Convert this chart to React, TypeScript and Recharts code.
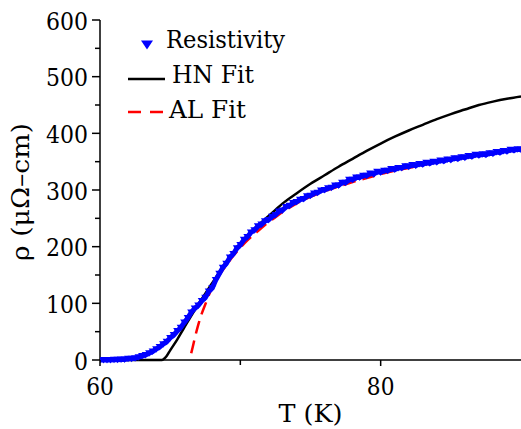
import { ComposedChart, Line, Scatter, XAxis, YAxis, Legend, Label } from 'recharts';

// Only DejaVu Serif is a real serif here; textLength squeezes it to Times-like widths.
const txt = { fontFamily: "'DejaVu Serif', serif" };
const FS = 25;

// measured resistivity (T in K, rho in µΩ-cm)
const resT = [
  60, 60.25, 60.5, 60.75, 61, 61.25, 61.5, 61.75, 62,
  62.25, 62.5, 62.75, 63, 63.25, 63.5, 63.75, 64,
  64.25, 64.5, 64.75, 65, 65.25, 65.5, 65.75, 66,
  66.25, 66.5, 66.75, 67, 67.25, 67.5, 67.75, 68,
  68.25, 68.5, 68.75, 69, 69.25, 69.5, 69.75, 70,
  70.25, 70.5, 70.75, 71, 71.25, 71.5, 71.75, 72,
  72.25, 72.5, 72.75, 73, 73.25, 73.5, 73.75, 74,
  74.25, 74.5, 74.75, 75, 75.25, 75.5, 75.75, 76,
  76.25, 76.5, 76.75, 77, 77.25, 77.5, 77.75, 78,
  78.25, 78.5, 78.75, 79, 79.25, 79.5, 79.75, 80,
  80.25, 80.5, 80.75, 81, 81.25, 81.5, 81.75, 82,
  82.25, 82.5, 82.75, 83, 83.25, 83.5, 83.75, 84,
  84.25, 84.5, 84.75, 85, 85.25, 85.5, 85.75, 86,
  86.25, 86.5, 86.75, 87, 87.25, 87.5, 87.75, 88,
  88.25, 88.5, 88.75, 89, 89.25, 89.5, 89.75, 90,
];
const resRho = [
  0, 0, 0, 0, 0.5, 0.5, 1, 1, 2,
  2, 3, 5, 7, 9, 12, 15, 19,
  23, 28, 32, 39, 44, 51, 57, 66,
  74, 84, 91, 96, 104, 110, 121, 127,
  141, 152, 163, 170, 181, 187, 197, 203,
  212, 217, 225, 229, 236, 239, 245, 247,
  253, 256, 262, 264, 270, 272, 277, 279,
  283, 284, 289, 290, 294, 295, 299, 300,
  303, 304, 308, 308, 313, 313, 318, 318,
  322, 322, 325, 325, 329, 328, 332, 331,
  334, 334, 337, 336, 339, 339, 342, 341,
  344, 343, 346, 345, 348, 347, 350, 349,
  352, 351, 354, 353, 356, 355, 358, 357,
  360, 359, 362, 361, 363, 362, 365, 364,
  367, 366, 369, 368, 371, 370, 372, 371,
];

// HN fit
const hnT = [60, 64.4, 64.75, 65, 65.5, 66, 66.5, 67, 67.5, 68, 68.5, 69, 69.5, 70, 70.5, 71, 71.5, 72, 72.5, 73, 74, 75, 76, 77, 78, 79, 80, 81, 82, 83, 84, 85, 86, 87, 88, 89, 90];
const hnRho = [0, 0, 7, 17, 36, 57, 78, 98, 117, 136, 155, 173, 189, 204, 218, 231, 243, 254, 265, 276, 294, 311, 326, 341, 355, 369, 382, 394, 405, 415, 425, 434, 442, 450, 456, 461, 465];

// AL fit
const alT = [66.5, 66.6, 66.75, 67, 67.25, 67.5, 67.75, 68, 68.5, 69, 69.5, 70, 70.5, 71, 71.5, 72, 72.5, 73, 74, 75, 76, 77, 78, 79, 80, 81, 82, 83, 84, 85, 86, 87, 88, 89, 90];
const alRho = [12, 22, 38, 62, 82, 98, 114, 128, 150, 167, 184, 198, 211, 222, 233, 243, 252, 261, 276, 288, 298, 306, 314, 321, 328, 334, 339, 344, 349, 353, 357, 361, 365, 368, 371];

const xTicks = [60, 70, 80];
const xLabeled = [60, 80];
const yTicks = [0, 50, 100, 150, 200, 250, 300, 350, 400, 450, 500, 550, 600];
const yLabeled = [0, 100, 200, 300, 400, 500, 600];

const resData = resT.map((t, i) => ({ t, rho: resRho[i] }));
const hnData = hnT.map((t, i) => ({ t, rho: hnRho[i] }));
const alData = alT.map((t, i) => ({ t, rho: alRho[i] }));

const YTick = (props: any) => {
  const { x, y, payload } = props;
  const major = yLabeled.includes(payload.value);
  const s = String(payload.value);
  return (
    <g>
      <line x1={x - (major ? 8 : 5)} x2={x} y1={y} y2={y} stroke="#000" strokeWidth={1.5} />
      {major && (
        <text x={x - 12} y={y + 9.5} textAnchor="end" style={txt} fontSize={FS} fill="#000"
          textLength={s.length * 14} lengthAdjust="spacingAndGlyphs">
          {s}
        </text>
      )}
    </g>
  );
};

const XTick = (props: any) => {
  const { x, y, payload } = props;
  const major = xLabeled.includes(payload.value);
  const s = String(payload.value);
  return (
    <g>
      <line x1={x} x2={x} y1={y} y2={y + (major ? 6 : 5)} stroke="#000" strokeWidth={1.5} />
      {major && (
        <text x={x} y={y + 35} textAnchor="middle" style={txt} fontSize={FS} fill="#000"
          textLength={s.length * 13.8} lengthAdjust="spacingAndGlyphs">
          {s}
        </text>
      )}
    </g>
  );
};

const Triangle = (props: any) => {
  const { cx, cy } = props;
  return <polygon points={`${cx - 4},${cy - 3} ${cx + 4},${cy - 3} ${cx},${cy + 3.5}`} fill="#0000ff" />;
};

const legendRows: Record<string, { y: number; tx: number; base: number; len: number }> = {
  triangle: { y: 45, tx: 166, base: 48, len: 119 },
  line: { y: 79, tx: 172, base: 83, len: 82 },
  plainline: { y: 112, tx: 169, base: 118, len: 77 },
};

const renderLegend = (props: any) => {
  const { payload } = props;
  return (
    <svg width={320} height={130} style={{ display: 'block' }}>
      {payload.map((entry: any) => {
        const r = legendRows[entry.type];
        const y = r.y;
        let icon;
        if (entry.type === 'triangle') {
          icon = <polygon points={`141,${y - 4.5} 153,${y - 4.5} 147,${y + 4.5}`} fill="#0000ff" />;
        } else if (entry.type === 'plainline') {
          icon = <line x1={128} x2={164} y1={y} y2={y} stroke="#ff0000" strokeWidth={2.5} strokeDasharray="13 9" />;
        } else {
          icon = <line x1={128} x2={165} y1={y} y2={y} stroke="#000" strokeWidth={2.5} />;
        }
        return (
          <g key={entry.value}>
            {icon}
            <text x={r.tx} y={r.base} style={txt} fontSize={FS} fill="#000"
              textLength={r.len} lengthAdjust="spacingAndGlyphs">
              {entry.value}
            </text>
          </g>
        );
      })}
    </svg>
  );
};

export default function App() {
  return (
    <div style={{ position: 'absolute', left: 0, top: 0, background: '#fff' }}>
      <ComposedChart width={521} height={429} margin={{ top: 20, right: 0, bottom: 0, left: 0 }}>
        <XAxis
          type="number"
          dataKey="t"
          domain={[60, 90]}
          ticks={xTicks}
          allowDataOverflow
          height={69}
          tickSize={0}
          tickMargin={0}
          tick={<XTick />}
          axisLine={{ stroke: '#000', strokeWidth: 1.5 }}
          interval={0}
        >
          <Label
            content={(p: any) => {
              const vb = p.viewBox;
              return (
                <text x={vb.x + vb.width / 2} y={422} textAnchor="middle" style={txt} fontSize={FS} fill="#000"
                  textLength={64} lengthAdjust="spacingAndGlyphs">
                  T (K)
                </text>
              );
            }}
          />
        </XAxis>
        <YAxis
          type="number"
          dataKey="rho"
          domain={[0, 600]}
          ticks={yTicks}
          width={100}
          tickSize={0}
          tickMargin={0}
          tick={<YTick />}
          axisLine={{ stroke: '#000', strokeWidth: 1.5 }}
          interval={0}
        >
          <Label
            content={() => {
              const cy = 192;
              return (
                <text x={29} y={cy} transform={`rotate(-90, 29, ${cy})`} textAnchor="middle" style={txt} fontSize={FS} fill="#000"
                  textLength={138} lengthAdjust="spacingAndGlyphs">
                  ρ (μΩ–cm)
                </text>
              );
            }}
          />
        </YAxis>
        <Legend
          layout="horizontal"
          verticalAlign="middle"
          align="center"
          wrapperStyle={{ left: 0, top: 0, width: 320, height: 130 }}
          content={renderLegend}
        />
        <Scatter
          name="Resistivity"
          data={resData}
          dataKey="rho"
          legendType="triangle"
          fill="#0000ff"
          line={{ stroke: '#0000ff', strokeWidth: 5 }}
          shape={<Triangle />}
          isAnimationActive={false}
        />
        <Line
          name="HN Fit"
          data={hnData}
          dataKey="rho"
          type="monotone"
          stroke="#000"
          strokeWidth={2.5}
          dot={false}
          activeDot={false}
          legendType="line"
          isAnimationActive={false}
        />
        <Line
          name="AL Fit"
          data={alData}
          dataKey="rho"
          type="monotone"
          stroke="#ff0000"
          strokeWidth={2.5}
          strokeDasharray="13 7"
          dot={false}
          activeDot={false}
          legendType="plainline"
          isAnimationActive={false}
        />
      </ComposedChart>
    </div>
  );
}
